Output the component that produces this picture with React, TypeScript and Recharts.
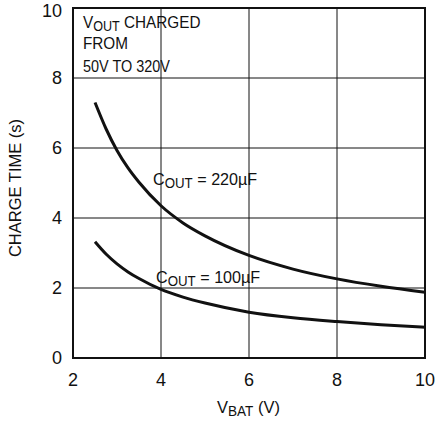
import { LineChart, Line, XAxis, YAxis, CartesianGrid, ReferenceArea } from 'recharts'

// V_BAT (V)
const vbat = [2.5, 2.75, 3, 3.25, 3.5, 4, 4.5, 5, 6, 7, 8, 9, 10]
// charge time (s), COUT = 220uF
const t220 = [7.3, 6.55, 5.93, 5.43, 5.02, 4.35, 3.86, 3.49, 2.93, 2.54, 2.26, 2.05, 1.88]
// charge time (s), COUT = 100uF
const t100 = [3.32, 2.97, 2.69, 2.46, 2.27, 1.96, 1.74, 1.57, 1.31, 1.15, 1.04, 0.95, 0.88]

const xTicks = [2, 4, 6, 8, 10]
const yTicks = [0, 2, 4, 6, 8, 10]

const FONT = "'Liberation Sans', Arial, sans-serif"
const INK = '#111'

const data = vbat.map((v, i) => ({ v, t220: t220[i], t100: t100[i] }))

// text squeezed horizontally to mimic the condensed face of the original
function Txt({ x, y, sx = 0.88, size = 17, children }: { x: number; y: number; sx?: number; size?: number; children: any }) {
  return (
    <text transform={`translate(${x} ${y}) scale(${sx} 1)`} fontSize={size} fontFamily={FONT} fill={INK}>
      {children}
    </text>
  )
}

function Sub({ text }: { text: string }) {
  return <tspan fontSize={14} dy={3}>{text}</tspan>
}

export default function App() {
  return (
    <div style={{ position: 'absolute', left: 0, top: 0, width: 437, height: 424, background: '#fff' }}>
      <LineChart width={437} height={424} data={data} margin={{ top: 8, right: 12, bottom: 0, left: 0 }}>
        <CartesianGrid stroke={INK} strokeWidth={1} horizontalValues={yTicks} verticalValues={xTicks} />
        <XAxis
          dataKey="v"
          type="number"
          domain={[2, 10]}
          ticks={xTicks}
          height={66}
          tickLine={false}
          axisLine={{ stroke: INK, strokeWidth: 2 }}
          tickMargin={9}
          tick={{ fill: INK, fontSize: 18, fontFamily: FONT }}
        />
        <YAxis
          type="number"
          domain={[0, 10]}
          ticks={yTicks}
          width={73}
          tickLine={false}
          axisLine={{ stroke: INK, strokeWidth: 2 }}
          tickMargin={5}
          tick={{ fill: INK, fontSize: 18, fontFamily: FONT }}
        />
        <ReferenceArea x1={2} x2={10} y1={0} y2={10} fill="none" stroke={INK} strokeWidth={2} />
        <Line type="monotone" dataKey="t220" stroke={INK} strokeWidth={3} dot={false} isAnimationActive={false} />
        <Line type="monotone" dataKey="t100" stroke={INK} strokeWidth={3} dot={false} isAnimationActive={false} />

        <g>
          <Txt x={83} y={28} sx={0.9}>
            V<Sub text="OUT" /><tspan dy={-3}> CHARGED</tspan>
          </Txt>
          <Txt x={83} y={49} sx={0.9}>FROM</Txt>
          <Txt x={83} y={72} sx={0.85}>50V TO 320V</Txt>

          <Txt x={153} y={185} sx={0.95}>
            C<Sub text="OUT" /><tspan dy={-3}> = 220µF</tspan>
          </Txt>
          <Txt x={156} y={282.5} sx={0.95}>
            C<Sub text="OUT" /><tspan dy={-3}> = 100µF</tspan>
          </Txt>

          <Txt x={217} y={412.5} sx={0.97}>
            V<Sub text="BAT" /><tspan dy={-3}> (V)</tspan>
          </Txt>
          <text x={21} y={188} fontSize={16.5} fontFamily={FONT} fill={INK} textAnchor="middle" transform="rotate(-90 21 188)">
            CHARGE TIME (s)
          </text>
        </g>
      </LineChart>
    </div>
  )
}
